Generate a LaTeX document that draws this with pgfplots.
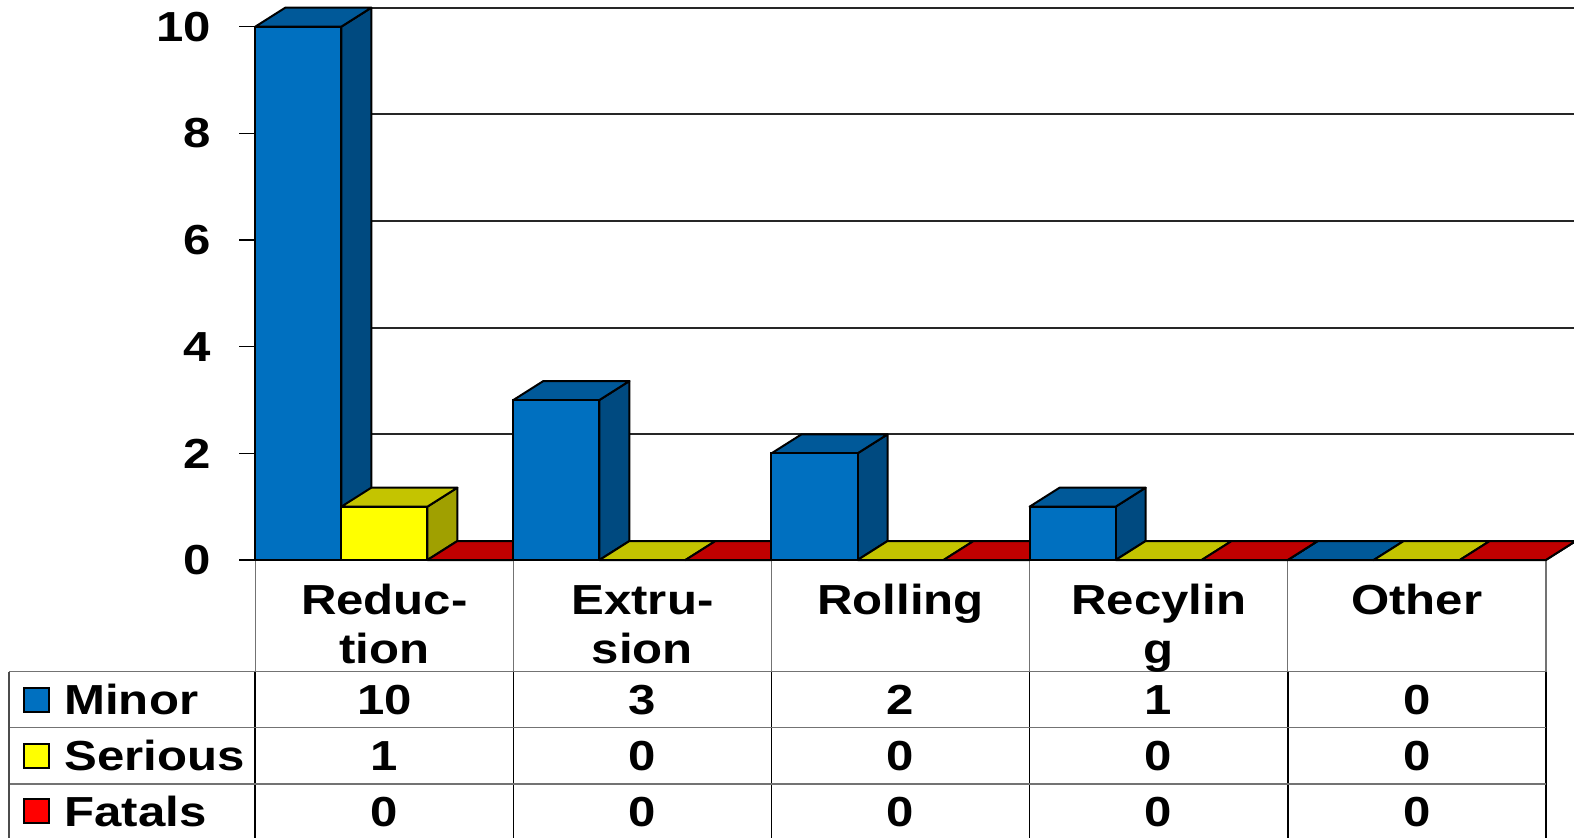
\documentclass[border=0pt]{standalone}
\usepackage{pgfplots}
\pgfplotsset{compat=1.18}
\usepackage{pgfplotstable}
\usepackage{fontspec}
\setmainfont{Liberation Sans}[FakeStretch=1.17]

\definecolor{minF}{RGB}{0,112,192}
\definecolor{minT}{RGB}{0,89,153}
\definecolor{minS}{RGB}{0,74,128}
\definecolor{serF}{RGB}{255,255,0}
\definecolor{serT}{RGB}{196,196,0}
\definecolor{serS}{RGB}{160,160,0}
\definecolor{fatF}{RGB}{255,0,0}
\definecolor{fatT}{RGB}{192,0,0}
\definecolor{fatS}{RGB}{140,0,0}

\newcommand\tf{\fontsize{21}{25}\selectfont\bfseries}

\pgfplotstableread{
cat minor serious fatals
0 10 1 0
1 3 0 0
2 2 0 0
3 1 0 0
4 0 0 0
}\datatable

\pgfdeclareplotmark{nothing}{}

% 3D faces of a bar: mark sits at (bar centre, value)
\newcommand\barfaces[2]{%
  \pgfmathsetmacro\hh{\hval*26.6667}%
  \filldraw[fill=#2, draw=black, line width=1pt, line join=round]
    (21.51pt,0pt) -- (36.51pt,9.5pt) -- (36.51pt,{9.5pt-\hh pt}) -- (21.51pt,{-\hh pt}) -- cycle;
  \filldraw[fill=#1, draw=black, line width=1pt, line join=round]
    (-21.51pt,0pt) -- (21.51pt,0pt) -- (36.51pt,9.5pt) -- (-6.51pt,9.5pt) -- cycle;
}
\newcommand\barfront[1]{%
  \pgfmathsetmacro\hh{\hval*26.6667}%
  \filldraw[fill=#1, draw=black, line width=1pt, line join=round]
    (-21.51pt,{-\hh pt}) rectangle (21.51pt,0pt);
}

\pgfplotsset{
  faces/.style 2 args={
    scatter, only marks, mark=nothing, point meta=y,
    visualization depends on={rawy \as \hval},
    scatter/@pre marker code/.code={\barfaces{#1}{#2}},
    scatter/@post marker code/.code={},
  },
  frontm/.style={
    scatter, only marks, mark=nothing, point meta=y,
    visualization depends on={rawy \as \hval},
    scatter/@pre marker code/.code={\barfront{#1}},
    scatter/@post marker code/.code={},
  },
  front/.style={ybar, bar width=0.333333, bar shift=0pt, fill=#1, draw=black, line width=1pt},
}

\begin{document}
\begin{tikzpicture}
\begin{axis}[
  x=129.05pt, y=26.6667pt,
  xmin=0, xmax=5, ymin=0, ymax=10,
  clip=false,
  axis x line=none,
  axis y line*=left,
  y axis line style={black, line width=0.8pt},
  ytick={0,2,...,10},
  tick align=outside,
  major tick length=8pt,
  ytick style={black, line width=0.8pt},
  ymajorgrids,
  major grid style={black!85, line width=0.9pt, shift={(15pt,9.5pt)}},
  yticklabel style={font=\tf, inner sep=0pt, anchor=east, xshift=-14pt},
  /pgf/number format/assume math mode=true,
]
% bars (front faces)
\addplot[front=minF] table[x expr=\thisrow{cat}+1/6, y=minor] {\datatable};
\addplot[front=serF] table[x expr=\thisrow{cat}+1/2, y=serious] {\datatable};
\addplot[front=fatF] table[x expr=\thisrow{cat}+5/6, y=fatals] {\datatable};
% side and top faces
\addplot[faces={minT}{minS}] table[x expr=\thisrow{cat}+1/6, y=minor] {\datatable};
\addplot[faces={serT}{serS}] table[x expr=\thisrow{cat}+1/2, y=serious] {\datatable};
\addplot[faces={fatT}{fatS}] table[x expr=\thisrow{cat}+5/6, y=fatals] {\datatable};
% front faces again, on top of the depth faces
\addplot[frontm=minF] table[x expr=\thisrow{cat}+1/6, y=minor] {\datatable};
\addplot[frontm=serF] table[x expr=\thisrow{cat}+1/2, y=serious] {\datatable};
\addplot[frontm=fatF] table[x expr=\thisrow{cat}+5/6, y=fatals] {\datatable};

% data table
\draw[black!55, line width=0.7pt] (axis cs:0,0) -- (axis cs:5,0);
\pgfplotsinvokeforeach{0,...,5}{
  \draw[black!55, line width=0.7pt] (axis cs:#1,0) -- (axis cs:#1,-2.094);
  \draw[black, line width=0.8pt] (axis cs:#1,-2.094) -- (axis cs:#1,-5.2125);
}
\draw[black!55, line width=0.7pt] (axis cs:-0.9543,-2.094) -- (axis cs:5,-2.094);
\draw[black!55, line width=0.7pt] (axis cs:-0.9543,-3.144) -- (axis cs:5,-3.144);
\draw[black!55, line width=0.7pt] (axis cs:-0.9543,-4.2) -- (axis cs:5,-4.2);
\draw[black!70, line width=0.7pt] (axis cs:-0.9543,-2.094) -- (axis cs:-0.9543,-5.2125);

% category labels
\node[font=\tf, anchor=base] at (axis cs:0.5,-1.0125) {Reduc-};
\node[font=\tf, anchor=base] at (axis cs:0.5,-1.931) {tion};
\node[font=\tf, anchor=base] at (axis cs:1.5,-1.0125) {Extru-};
\node[font=\tf, anchor=base] at (axis cs:1.5,-1.931) {sion};
\node[font=\tf, anchor=base] at (axis cs:2.5,-1.0125) {Rolling};
\node[font=\tf, anchor=base] at (axis cs:3.5,-1.0125) {Recylin};
\node[font=\tf, anchor=base] at (axis cs:3.5,-1.931) {g};
\node[font=\tf, anchor=base] at (axis cs:4.5,-1.0125) {Other};

% values
\node[font=\tf, anchor=base] at (axis cs:0.5,-2.8875) {10};
\node[font=\tf, anchor=base] at (axis cs:1.5,-2.8875) {3};
\node[font=\tf, anchor=base] at (axis cs:2.5,-2.8875) {2};
\node[font=\tf, anchor=base] at (axis cs:3.5,-2.8875) {1};
\node[font=\tf, anchor=base] at (axis cs:4.5,-2.8875) {0};
\node[font=\tf, anchor=base] at (axis cs:0.5,-3.941) {1};
\node[font=\tf, anchor=base] at (axis cs:1.5,-3.941) {0};
\node[font=\tf, anchor=base] at (axis cs:2.5,-3.941) {0};
\node[font=\tf, anchor=base] at (axis cs:3.5,-3.941) {0};
\node[font=\tf, anchor=base] at (axis cs:4.5,-3.941) {0};
\node[font=\tf, anchor=base] at (axis cs:0.5,-4.997) {0};
\node[font=\tf, anchor=base] at (axis cs:1.5,-4.997) {0};
\node[font=\tf, anchor=base] at (axis cs:2.5,-4.997) {0};
\node[font=\tf, anchor=base] at (axis cs:3.5,-4.997) {0};
\node[font=\tf, anchor=base] at (axis cs:4.5,-4.997) {0};

% legend
\filldraw[fill=minF, draw=black, line width=1pt] (axis cs:-0.8961,-2.841) rectangle (axis cs:-0.7992,-2.391);
\filldraw[fill=serF, draw=black, line width=1pt] (axis cs:-0.8961,-3.894) rectangle (axis cs:-0.7992,-3.444);
\filldraw[fill=fatF, draw=black, line width=1pt] (axis cs:-0.8961,-4.928) rectangle (axis cs:-0.7992,-4.478);
\node[font=\tf, anchor=base west, inner sep=0pt] at (axis cs:-0.7412,-2.8875) {Minor};
\node[font=\tf, anchor=base west, inner sep=0pt] at (axis cs:-0.7412,-3.941) {Serious};
\node[font=\tf, anchor=base west, inner sep=0pt] at (axis cs:-0.7412,-4.997) {Fatals};

\coordinate (bbSW) at (axis cs:-0.98915,-5.2125);
\coordinate (bbNE) at (axis cs:5.10927,10.5);
\end{axis}
\pgfresetboundingbox
\path (bbSW) rectangle (bbNE);
\end{tikzpicture}
\end{document}
